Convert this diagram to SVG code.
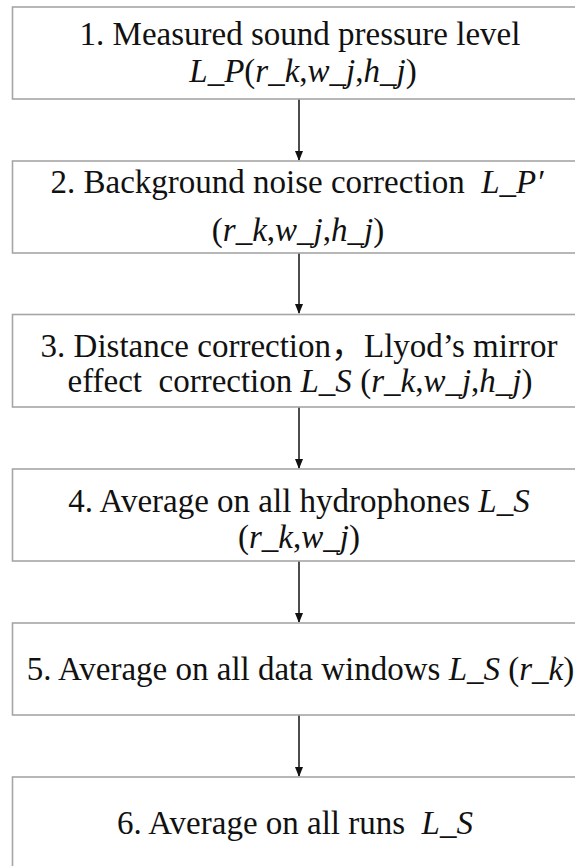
<svg xmlns="http://www.w3.org/2000/svg" width="575" height="866" viewBox="0 0 575 866">
<style>
.box{fill:#fff;stroke:#a6a6a6;stroke-width:1.6}
.t{font-family:"Liberation Serif","Times New Roman","Noto Sans CJK SC",serif;font-size:33px;fill:#111;text-anchor:middle}
.i{font-style:italic}
.con{stroke:#111;stroke-width:1.5;fill:none}
</style>
<defs>
<marker id="ah" markerWidth="10" markerHeight="10" refX="9" refY="5" orient="auto" markerUnits="userSpaceOnUse">
<path d="M0,1 L10,5 L0,9 Z" fill="#111"/>
</marker>
</defs>
<rect width="575" height="866" fill="#fff"/>
<g id="connectors">
<line class="con" x1="299" y1="99" x2="299" y2="160" marker-end="url(#ah)"/>
<line class="con" x1="299" y1="253" x2="299" y2="313" marker-end="url(#ah)"/>
<line class="con" x1="299" y1="407" x2="299" y2="468" marker-end="url(#ah)"/>
<line class="con" x1="299" y1="561" x2="299" y2="622" marker-end="url(#ah)"/>
<line class="con" x1="299" y1="715" x2="299" y2="776" marker-end="url(#ah)"/>
</g>
<g id="n1">
<rect class="box" x="12.5" y="7" width="600" height="92"/>
<text class="t" x="300" y="45">1. Measured sound pressure level</text>
<text class="t" x="303" y="82"><tspan class="i">L_P</tspan>(<tspan class="i">r_k</tspan>,<tspan class="i">w_j</tspan>,<tspan class="i">h_j</tspan>)</text>
</g>
<g id="n2">
<rect class="box" x="12.5" y="161" width="600" height="92"/>
<text class="t" x="297" y="193" xml:space="preserve">2. Background noise correction  <tspan class="i">L_P′</tspan></text>
<text class="t" x="298" y="241">(<tspan class="i">r_k</tspan>,<tspan class="i">w_j</tspan>,<tspan class="i">h_j</tspan>)</text>
</g>
<g id="n3">
<rect class="box" x="12.5" y="314.5" width="600" height="92.5"/>
<text class="t" x="299" y="357">3. Distance correction，Llyod’s mirror</text>
<text class="t" x="300" y="392" xml:space="preserve">effect  correction <tspan class="i">L_S</tspan> (<tspan class="i">r_k</tspan>,<tspan class="i">w_j</tspan>,<tspan class="i">h_j</tspan>)</text>
</g>
<g id="n4">
<rect class="box" x="12.5" y="469" width="600" height="92"/>
<text class="t" x="299" y="512">4. Average on all hydrophones <tspan class="i">L_S</tspan></text>
<text class="t" x="299" y="548">(<tspan class="i">r_k</tspan>,<tspan class="i">w_j</tspan>)</text>
</g>
<g id="n5">
<rect class="box" x="12.5" y="623" width="600" height="92"/>
<text class="t" x="300.5" y="680">5. Average on all data windows <tspan class="i">L_S</tspan> (<tspan class="i">r_k</tspan>)</text>
</g>
<g id="n6">
<rect class="box" x="12.5" y="777" width="600" height="120"/>
<text class="t" x="295" y="834" xml:space="preserve">6. Average on all runs  <tspan class="i">L_S</tspan></text>
</g>
</svg>
